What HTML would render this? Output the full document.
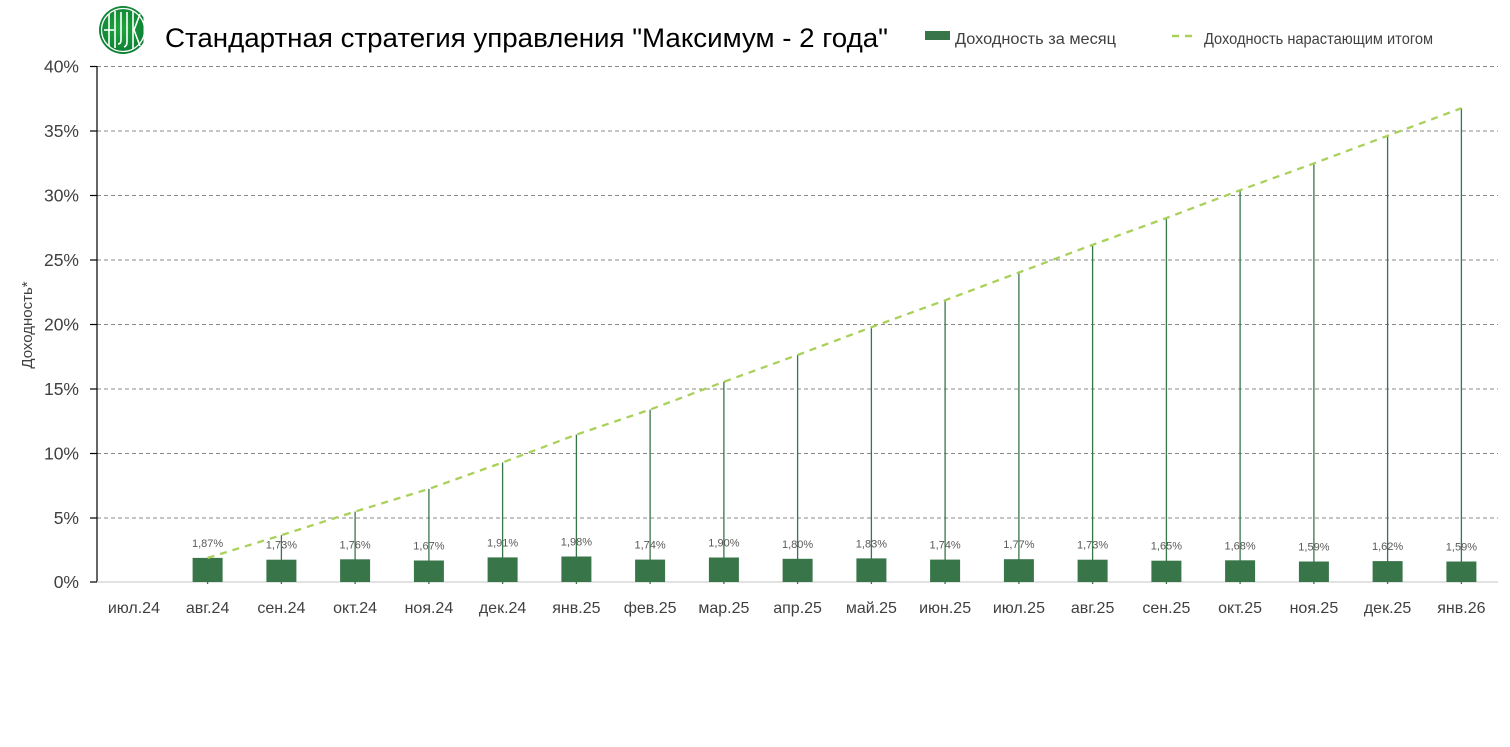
<!DOCTYPE html>
<html><head><meta charset="utf-8"><style>
html,body{margin:0;padding:0;background:#fff;}
svg{display:block;}
text{font-family:"Liberation Sans","DejaVu Sans",sans-serif;}
</style></head><body>
<svg width="1510" height="747" viewBox="0 0 1510 747" xmlns="http://www.w3.org/2000/svg">
<defs>
<radialGradient id="lg" cx="45%" cy="45%" r="60%"><stop offset="0" stop-color="#1fa83f"/><stop offset="1" stop-color="#0b7a32"/></radialGradient>
<clipPath id="lc"><rect x="95" y="0" width="48.5" height="60"/></clipPath>
</defs>
<!-- logo -->
<g clip-path="url(#lc)">
<circle cx="123" cy="30" r="24" fill="url(#lg)"/>
<circle cx="123" cy="30" r="21.5" fill="none" stroke="#fff" stroke-width="1.3"/>
<g stroke="#fff" stroke-width="1.6" fill="none">
<path d="M109 14 V46"/><path d="M104 30 H114"/><path d="M115 11 V48"/>
<path d="M121 12 V40 q0 4 -3 4"/><path d="M127 12 V42 q0 4 -3 5"/>
<path d="M133 11 V49"/><path d="M140 14 L134 30 L140 46"/>
</g>
</g>
<!-- title -->
<text x="165" y="47" font-size="27" fill="#000" textLength="723" lengthAdjust="spacingAndGlyphs">Стандартная стратегия управления "Максимум - 2 года"</text>
<!-- legend -->
<rect x="925" y="31" width="25" height="9" fill="#38764a"/>
<text x="955" y="44" font-size="16" fill="#404040" textLength="161" lengthAdjust="spacingAndGlyphs">Доходность за месяц</text>
<line x1="1172" y1="36" x2="1193" y2="36" stroke="#a9d15a" stroke-width="2.5" stroke-dasharray="7,6"/>
<text x="1204" y="44" font-size="16" fill="#404040" textLength="229" lengthAdjust="spacingAndGlyphs">Доходность нарастающим итогом</text>
<!-- gridlines -->
<g stroke="#8a8a8a" stroke-width="1" stroke-dasharray="4,3">
<line x1="97" y1="66.5" x2="1498" y2="66.5"/>
<line x1="97" y1="131" x2="1498" y2="131"/>
<line x1="97" y1="195.5" x2="1498" y2="195.5"/>
<line x1="97" y1="260" x2="1498" y2="260"/>
<line x1="97" y1="324.5" x2="1498" y2="324.5"/>
<line x1="97" y1="389" x2="1498" y2="389"/>
<line x1="97" y1="453.5" x2="1498" y2="453.5"/>
<line x1="97" y1="518" x2="1498" y2="518"/>
</g>
<!-- y axis -->
<g stroke="#000" stroke-width="1.2">
<line x1="97" y1="66" x2="97" y2="582"/>
<line x1="90" y1="66.5" x2="97" y2="66.5"/>
<line x1="90" y1="131" x2="97" y2="131"/>
<line x1="90" y1="195.5" x2="97" y2="195.5"/>
<line x1="90" y1="260" x2="97" y2="260"/>
<line x1="90" y1="324.5" x2="97" y2="324.5"/>
<line x1="90" y1="389" x2="97" y2="389"/>
<line x1="90" y1="453.5" x2="97" y2="453.5"/>
<line x1="90" y1="518" x2="97" y2="518"/>
<line x1="90" y1="582" x2="97" y2="582"/>
</g>
<g font-size="17.5" fill="#404040" text-anchor="end">
<text x="79" y="72.5">40%</text>
<text x="79" y="137">35%</text>
<text x="79" y="201.5">30%</text>
<text x="79" y="266">25%</text>
<text x="79" y="330.5">20%</text>
<text x="79" y="395">15%</text>
<text x="79" y="459.5">10%</text>
<text x="79" y="524">5%</text>
<text x="79" y="588">0%</text>
</g>
<text transform="translate(32,325) rotate(-90)" font-size="15" fill="#404040" text-anchor="middle">Доходность*</text>
<!-- x axis -->
<line x1="97" y1="582" x2="1498" y2="582" stroke="#d9d9d9" stroke-width="1.5"/>
<!-- drop lines -->
<g stroke="#38764a" stroke-width="1.3">
<line x1="281.4" y1="535.2" x2="281.4" y2="584"/>
<line x1="355.1" y1="511.6" x2="355.1" y2="584"/>
<line x1="428.9" y1="488.9" x2="428.9" y2="584"/>
<line x1="502.6" y1="462.5" x2="502.6" y2="584"/>
<line x1="576.4" y1="434.6" x2="576.4" y2="584"/>
<line x1="650.1" y1="409.6" x2="650.1" y2="584"/>
<line x1="723.9" y1="381.8" x2="723.9" y2="584"/>
<line x1="797.6" y1="355.0" x2="797.6" y2="584"/>
<line x1="871.4" y1="327.2" x2="871.4" y2="584"/>
<line x1="945.1" y1="300.3" x2="945.1" y2="584"/>
<line x1="1018.9" y1="272.5" x2="1018.9" y2="584"/>
<line x1="1092.6" y1="244.8" x2="1092.6" y2="584"/>
<line x1="1166.4" y1="218.0" x2="1166.4" y2="584"/>
<line x1="1240.1" y1="190.2" x2="1240.1" y2="584"/>
<line x1="1313.9" y1="163.4" x2="1313.9" y2="584"/>
<line x1="1387.6" y1="135.8" x2="1387.6" y2="584"/>
<line x1="1461.4" y1="108.2" x2="1461.4" y2="584"/>
<line x1="207.6" y1="557.9" x2="207.6" y2="584"/>
</g>
<!-- bars -->
<g fill="#38764a">
<rect x="192.6" y="557.9" width="30" height="24.1"/>
<rect x="266.4" y="559.7" width="30" height="22.3"/>
<rect x="340.1" y="559.3" width="30" height="22.7"/>
<rect x="413.9" y="560.5" width="30" height="21.5"/>
<rect x="487.6" y="557.4" width="30" height="24.6"/>
<rect x="561.4" y="556.5" width="30" height="25.5"/>
<rect x="635.1" y="559.6" width="30" height="22.4"/>
<rect x="708.9" y="557.5" width="30" height="24.5"/>
<rect x="782.6" y="558.8" width="30" height="23.2"/>
<rect x="856.4" y="558.4" width="30" height="23.6"/>
<rect x="930.1" y="559.6" width="30" height="22.4"/>
<rect x="1003.9" y="559.2" width="30" height="22.8"/>
<rect x="1077.6" y="559.7" width="30" height="22.3"/>
<rect x="1151.4" y="560.7" width="30" height="21.3"/>
<rect x="1225.1" y="560.3" width="30" height="21.7"/>
<rect x="1298.9" y="561.5" width="30" height="20.5"/>
<rect x="1372.6" y="561.1" width="30" height="20.9"/>
<rect x="1446.4" y="561.5" width="30" height="20.5"/>
</g>
<!-- cumulative line -->
<polyline fill="none" stroke="#a9d15a" stroke-width="2.3" stroke-dasharray="7,6" points="207.6,557.9 281.4,535.2 355.1,511.6 428.9,488.9 502.6,462.5 576.4,434.6 650.1,409.6 723.9,381.8 797.6,355.0 871.4,327.2 945.1,300.3 1018.9,272.5 1092.6,244.8 1166.4,218.0 1240.1,190.2 1313.9,163.4 1387.6,135.8 1461.4,108.2"/>
<!-- bar labels -->
<g font-size="11" fill="#595959" text-anchor="middle">
<text x="207.6" y="547">1,87%</text>
<text x="281.4" y="548.7">1,73%</text>
<text x="355.1" y="548.3">1,76%</text>
<text x="428.9" y="549.5">1,67%</text>
<text x="502.6" y="546.4">1,91%</text>
<text x="576.4" y="545.5">1,98%</text>
<text x="650.1" y="548.6">1,74%</text>
<text x="723.9" y="546.5">1,90%</text>
<text x="797.6" y="547.8">1,80%</text>
<text x="871.4" y="547.4">1,83%</text>
<text x="945.1" y="548.6">1,74%</text>
<text x="1018.9" y="548.2">1,77%</text>
<text x="1092.6" y="548.7">1,73%</text>
<text x="1166.4" y="549.7">1,65%</text>
<text x="1240.1" y="549.3">1,68%</text>
<text x="1313.9" y="550.5">1,59%</text>
<text x="1387.6" y="550.1">1,62%</text>
<text x="1461.4" y="550.5">1,59%</text>
</g>
<!-- x labels -->
<g font-size="16" fill="#404040" text-anchor="middle">
<text x="133.9" y="613">июл.24</text>
<text x="207.6" y="613">авг.24</text>
<text x="281.4" y="613">сен.24</text>
<text x="355.1" y="613">окт.24</text>
<text x="428.9" y="613">ноя.24</text>
<text x="502.6" y="613">дек.24</text>
<text x="576.4" y="613">янв.25</text>
<text x="650.1" y="613">фев.25</text>
<text x="723.9" y="613">мар.25</text>
<text x="797.6" y="613">апр.25</text>
<text x="871.4" y="613">май.25</text>
<text x="945.1" y="613">июн.25</text>
<text x="1018.9" y="613">июл.25</text>
<text x="1092.6" y="613">авг.25</text>
<text x="1166.4" y="613">сен.25</text>
<text x="1240.1" y="613">окт.25</text>
<text x="1313.9" y="613">ноя.25</text>
<text x="1387.6" y="613">дек.25</text>
<text x="1461.4" y="613">янв.26</text>
</g>
</svg>
</body></html>
